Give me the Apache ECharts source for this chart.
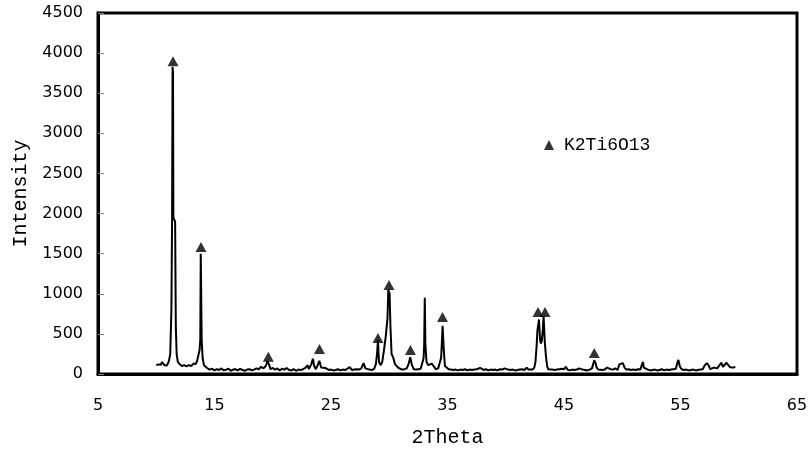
<!DOCTYPE html>
<html>
<head>
<meta charset="utf-8">
<script src="https://cdn.jsdelivr.net/npm/echarts@6/dist/echarts.min.js"></script>
<style>
html,body{margin:0;padding:0;background:#fff;}
#chart{width:808px;height:449px;}
</style>
</head>
<body>
<div id="chart"></div>
<script>
// 2Theta positions (degrees) of the measured pattern
const twoTheta = [
10.0,10.1,10.2,10.3,10.4,10.5,10.6,10.7,10.8,10.9,11.0,11.1,11.2,11.3,11.36,11.4,11.44,11.47,11.58,11.62,11.68,11.75,11.85,
12.0,12.2,12.4,12.6,12.8,13.0,13.2,13.4,13.5,13.6,13.72,13.78,13.82,13.86,13.9,13.98,14.1,
14.2,14.4,14.6,14.8,15.0,15.2,15.4,15.6,15.8,16.0,16.2,16.4,16.6,16.8,17.0,17.2,17.4,17.6,17.8,18.0,18.2,18.4,18.6,18.8,
19.0,19.2,19.4,19.55,19.7,19.8,20.0,20.2,20.4,20.6,20.8,21.0,21.2,21.4,21.6,21.8,22.0,22.2,22.4,22.6,22.8,
23.0,23.1,23.3,23.45,23.55,23.7,23.85,24.0,24.15,24.3,24.5,24.65,24.8,25.0,25.2,25.4,25.6,25.8,26.0,26.2,26.4,26.6,26.8,
27.0,27.2,27.4,27.6,27.8,27.95,28.1,28.3,28.5,28.7,28.85,28.95,29.03,29.08,29.12,29.25,29.4,29.55,29.7,29.78,29.85,29.92,
29.97,30.03,30.1,30.2,30.35,30.5,30.65,30.8,30.95,31.1,31.3,31.5,31.65,31.8,31.95,32.1,32.3,32.5,32.7,32.8,32.95,33.0,
33.05,33.1,33.2,33.35,33.5,33.65,33.75,33.85,34.0,34.2,34.35,34.45,34.52,34.58,34.63,34.68,34.78,34.9,
35.1,35.3,35.5,35.7,35.9,36.1,36.3,36.5,36.7,36.9,37.1,37.3,37.5,37.65,37.8,37.95,38.1,38.3,38.5,38.7,38.9,39.1,39.3,
39.5,39.7,39.9,40.05,40.2,40.4,40.6,40.8,41.0,41.2,41.4,41.6,41.8,41.95,42.1,42.3,42.45,42.55,42.65,42.72,42.78,42.85,
42.9,42.95,43.02,43.1,43.18,43.25,43.3,43.35,43.45,43.55,43.65,43.8,43.95,44.05,44.2,44.4,44.6,44.8,45.0,45.15,45.3,
45.5,45.7,45.9,46.1,46.3,46.45,46.6,46.8,47.0,47.2,47.4,47.5,47.6,47.7,47.8,47.95,48.1,48.3,48.5,48.7,48.85,49.0,49.2,
49.4,49.6,49.75,49.9,50.05,50.2,50.35,50.55,50.75,50.95,51.15,51.35,51.55,51.7,51.78,51.85,52.0,52.2,52.4,52.6,52.8,
53.0,53.1,53.2,53.4,53.6,53.8,54.0,54.2,54.4,54.6,54.75,54.82,54.95,55.1,55.3,55.5,55.7,55.9,56.1,56.3,56.5,56.7,56.9,
57.05,57.25,57.4,57.55,57.7,57.85,58.0,58.15,58.35,58.5,58.65,58.8,58.95,59.1,59.25,59.4,59.55,59.7
];
// Intensity (counts) at each 2Theta position
const intensity = [
110,100,120,135,115,150,130,110,125,105,130,170,250,800,1950,3830,3760,1950,1950,1900,600,250,150,
125,100,110,95,110,100,130,125,160,150,300,430,1500,1480,420,200,110,
90,70,55,65,45,60,50,70,45,55,65,40,55,60,45,65,50,40,55,60,45,55,70,60,
90,70,100,160,110,60,75,55,70,45,65,55,75,50,45,60,40,55,50,60,75,
110,60,120,190,100,60,110,165,80,60,75,80,50,55,45,50,60,45,55,50,65,85,50,
55,60,55,70,135,70,50,55,50,65,120,250,420,400,150,110,150,300,470,460,700,1050,
1040,1000,600,250,200,120,100,75,60,55,60,70,120,210,110,60,55,60,65,80,200,380,
950,380,150,110,90,130,150,90,60,70,80,200,400,600,590,300,100,80,
60,55,50,55,45,55,50,60,45,55,50,55,60,80,75,55,50,60,45,55,50,55,45,
60,55,70,80,55,50,55,45,50,55,60,50,80,55,60,55,80,150,350,550,600,680,
670,420,380,420,550,720,700,400,220,100,60,70,55,75,50,55,60,65,60,90,55,
45,55,50,55,70,90,55,50,45,55,70,120,170,140,80,55,65,50,55,80,95,60,55,
70,50,120,140,135,80,55,60,50,55,50,60,55,120,150,80,60,55,45,50,55,
45,65,50,60,45,55,50,55,60,65,150,175,90,60,50,55,45,50,55,45,50,55,60,
100,135,110,60,55,80,90,70,110,140,90,100,140,130,85,95,80,90
];
// K2Ti6O13 peak markers (2Theta, marker height)
const markerTheta = [11.44,13.84,19.62,24.01,29.03,29.98,31.82,34.57,42.77,43.37,47.6];
const markerHeight = [3900,1583,216,312,449,1109,299,710,773,773,262];
// axis tick values
const xTicks = [5,15,25,35,45,55,65];
const yTicks = [0,500,1000,1500,2000,2500,3000,3500,4000,4500];

const pattern = twoTheta.map((t, i) => [t, intensity[i]]);
const markers = markerTheta.map((t, i) => [t, markerHeight[i]]);

const chart = echarts.init(document.getElementById('chart'), null, {renderer: 'canvas'});
chart.setOption({
  animation: false,
  backgroundColor: '#fff',
  grid: {left: 98, right: 11, top: 13, bottom: 75, show: true, borderColor: '#000', borderWidth: 3,
         backgroundColor: 'transparent', containLabel: false, outerBoundsMode: 'none'},
  legend: {
    data: ['K2Ti6O13'],
    left: 539, top: 131,
    icon: 'triangle', itemWidth: 10, itemHeight: 10,
    textStyle: {fontFamily: 'Liberation Mono', fontSize: 18, color: '#000', padding: [0,0,0,5]},
    selectedMode: false
  },
  xAxis: {
    type: 'value', min: xTicks[0], max: xTicks[xTicks.length-1], interval: 10,
    name: '2Theta', nameLocation: 'middle', nameGap: 54,
    nameTextStyle: {fontFamily: 'Liberation Mono', fontSize: 20, color: '#000'},
    axisLine: {show: true, lineStyle: {color: '#000', width: 3}},
    axisTick: {show: false},
    splitLine: {show: false},
    axisLabel: {margin: 24, fontFamily: 'DejaVu Sans', fontSize: 16, color: '#000', formatter: v => String(v)}
  },
  yAxis: {
    type: 'value', min: yTicks[0], max: yTicks[yTicks.length-1], interval: 500,
    name: 'Intensity', nameLocation: 'middle', nameGap: 67, nameRotate: 90,
    nameTextStyle: {fontFamily: 'Liberation Mono', fontSize: 20, color: '#000'},
    axisLine: {show: true, lineStyle: {color: '#000', width: 3}},
    axisTick: {show: true, inside: true, length: 6, lineStyle: {color: '#888', width: 1}},
    splitLine: {show: false},
    axisLabel: {margin: 15, fontFamily: 'DejaVu Sans', fontSize: 16, color: '#000', formatter: v => String(v)}
  },
  series: [
    {
      name: 'pattern', type: 'line', data: pattern, showSymbol: false, symbol: 'none',
      lineStyle: {color: '#000', width: 2}, sampling: null, z: 2, silent: true
    },
    {
      name: 'K2Ti6O13', type: 'scatter', data: markers, symbol: 'triangle', symbolSize: [11, 10],
      itemStyle: {color: '#000'}, z: 3, silent: true
    }
  ]
});
</script>
</body>
</html>
